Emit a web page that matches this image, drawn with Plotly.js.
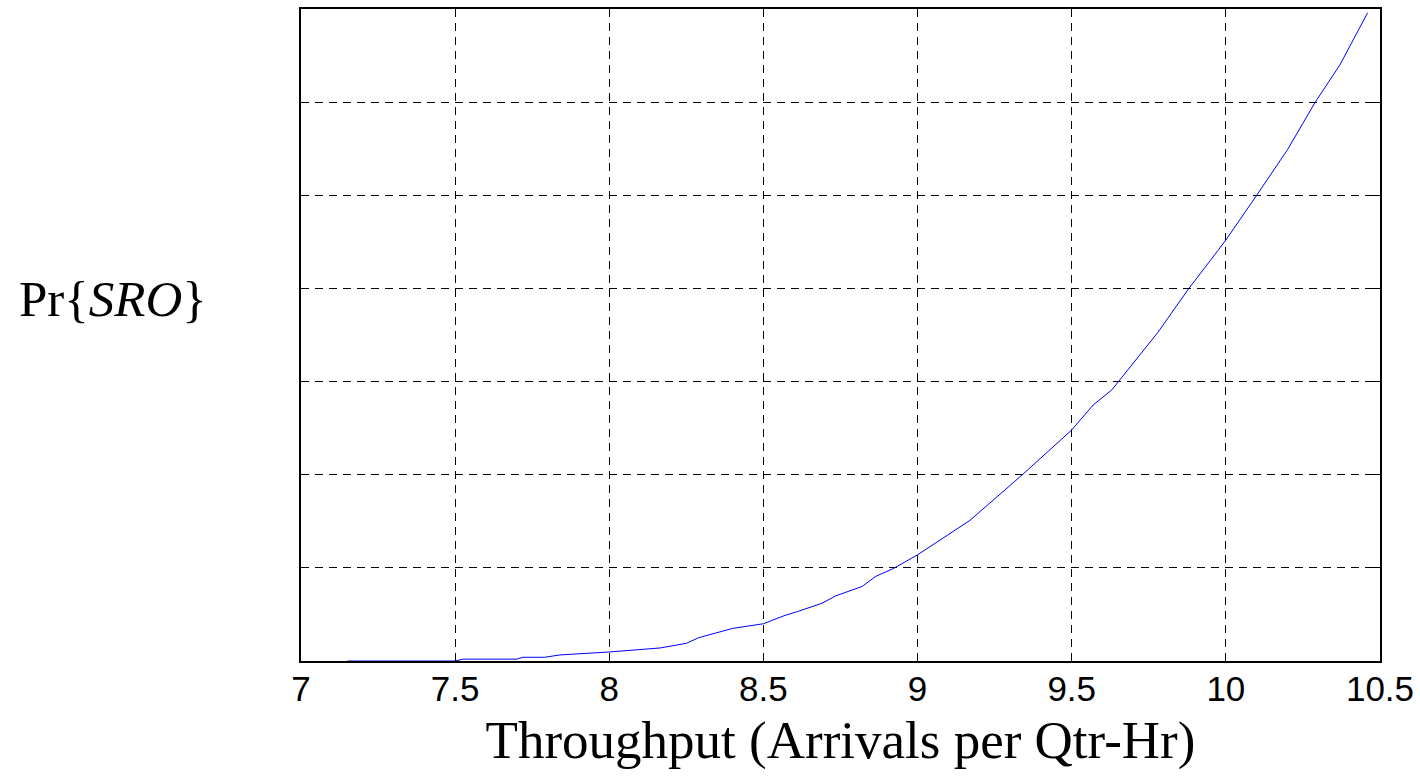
<!DOCTYPE html>
<html>
<head>
<meta charset="utf-8">
<script src="https://cdn.plot.ly/plotly-3.0.1.min.js"></script>
<style>html,body{margin:0;padding:0;background:#fff;}#chart{width:1420px;height:779px;}</style>
</head>
<body>
<div id="chart"></div>
<script>
const throughput = [7.15, 7.5, 7.526, 7.70, 7.72, 7.79, 7.84, 7.895, 8.0, 8.165, 8.25, 8.29, 8.40, 8.50, 8.57, 8.61, 8.69, 8.735, 8.82, 8.865, 8.92, 9.0, 9.17, 9.34, 9.5, 9.57, 9.63, 9.78, 9.88, 9.975, 10.0, 10.1, 10.2, 10.29, 10.37, 10.46];
const probSRO = [0.0, 0.0, 0.0002, 0.0002, 0.0004, 0.0004, 0.00065, 0.00075, 0.00097, 0.0014, 0.0019, 0.0025, 0.0035, 0.0040, 0.0049, 0.0053, 0.0062, 0.0070, 0.0080, 0.0091, 0.0099, 0.0114, 0.0151, 0.0200, 0.0248, 0.0275, 0.0291, 0.0353, 0.0400, 0.0441, 0.0452, 0.0500, 0.0549, 0.0600, 0.0640, 0.0696];
const xTickVals = [7, 7.5, 8, 8.5, 9, 9.5, 10, 10.5];
const xTickText = ["7", "7.5", "8", "8.5", "9", "9.5", "10", "10.5"];
const yTickVals = [0, 0.01, 0.02, 0.03, 0.04, 0.05, 0.06, 0.07];

const trace = {
  x: throughput, y: probSRO, type: 'scatter', mode: 'lines',
  line: {color: '#0000ff', width: 1}, hoverinfo: 'x+y'
};
const layout = {
  width: 1420, height: 779,
  margin: {l: 301, r: 40, t: 9, b: 118},
  paper_bgcolor: '#ffffff', plot_bgcolor: '#ffffff',
  showlegend: false,
  xaxis: {
    range: [7, 10.5], tickmode: 'array', tickvals: xTickVals, ticktext: xTickText,
    showgrid: true, gridcolor: '#000000', gridwidth: 1, griddash: '8px,6px',
    zeroline: false, showline: true, linecolor: '#000000', linewidth: 2, mirror: 'ticks',
    ticks: 'inside', ticklen: 8, tickcolor: '#000000', ticklabelstandoff: -4,
    tickfont: {family: 'Liberation Sans, Arial, sans-serif', size: 35, color: '#000000'},
    title: {text: 'Throughput (Arrivals per Qtr-Hr)', standoff: 14,
      font: {family: 'Liberation Serif, Times New Roman, serif', size: 53, color: '#000000'}}
  },
  yaxis: {
    range: [0, 0.07], tickmode: 'array', tickvals: yTickVals,
    showgrid: true, gridcolor: '#000000', gridwidth: 1, griddash: '8px,6px',
    zeroline: false, showline: true, linecolor: '#000000', linewidth: 2, mirror: 'ticks',
    ticks: 'inside', ticklen: 8, tickcolor: '#000000', showticklabels: false
  },
  annotations: [{
    xref: 'paper', yref: 'paper', x: -0.263, y: 0.555, xanchor: 'left', yanchor: 'middle',
    text: 'Pr{<i>SRO</i>}', showarrow: false,
    font: {family: 'Liberation Serif, Times New Roman, serif', size: 51, color: '#000000'}
  }]
};
Plotly.newPlot('chart', [trace], layout, {staticPlot: true});
</script>
</body>
</html>
